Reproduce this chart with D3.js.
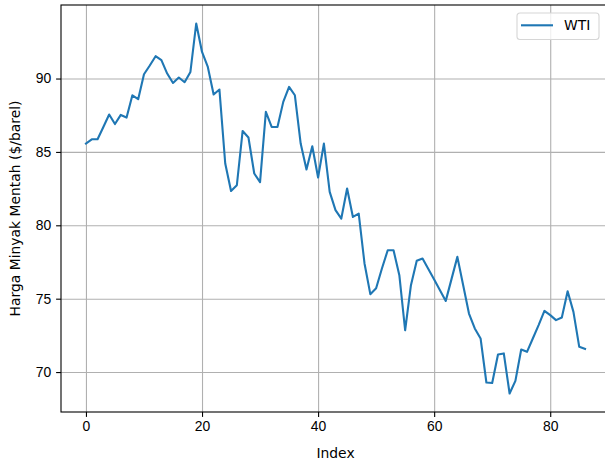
<!DOCTYPE html>
<html>
<head>
<meta charset="utf-8">
<script src="https://cdn.jsdelivr.net/npm/d3@7"></script>
<style>
  body { margin: 0; background: #fff; }
  svg { display: block; font-family: "DejaVu Sans", sans-serif; }
  .axis text { font-size: 13.9px; fill: #000; }
  .axis path, .axis line { stroke: #000; stroke-width: 1.1px; }
  .grid line { stroke: #b0b0b0; stroke-width: 1.1px; }
  .grid path { display: none; }
</style>
</head>
<body>
<div id="chart"></div>
<script>
// WTI price per index step
const seriesName = 'WTI';
const wtiValues = [
  85.57, 85.86, 85.86, 86.70, 87.55, 86.90, 87.52, 87.34, 88.86, 88.59,
  90.29, 90.89, 91.52, 91.25, 90.34, 89.70, 90.07, 89.75, 90.45, 93.75,
  91.81, 90.79, 88.91, 89.25, 84.21, 82.34, 82.73, 86.43, 85.98, 83.53,
  82.94, 87.73, 86.70, 86.70, 88.41, 89.43, 88.86, 85.57, 83.80, 85.39,
  83.26, 85.57, 82.28, 81.03, 80.46, 82.51, 80.57, 80.80, 77.40, 75.31,
  75.71, 77.06, 78.30, 78.30, 76.60, 72.85, 75.92, 77.58, 77.74, 77.03,
  76.31, 75.58, 74.85, 76.35, 77.85, 75.92, 73.99, 72.97, 72.29, 69.29,
  69.26, 71.20, 71.27, 68.54, 69.40, 71.54, 71.38, 72.29, 73.20, 74.17,
  73.88, 73.54, 73.72, 75.51, 74.10, 71.72, 71.58
];
const xTicks = [0, 20, 40, 60, 80];
const yTicks = [70, 75, 80, 85, 90];
const xLabel = 'Index';
const yLabel = 'Harga Minyak Mentah ($/barel)';

class LineChart {

  constructor(_config, _data) {
    this.config = {
      parentElement: _config.parentElement,
      containerWidth: 605,
      containerHeight: 464,
      // axes box runs a little past the right edge of the picture
      margin: {top: 5, right: -5, bottom: 52, left: 61},
      color: '#1f77b4'
    }
    this.data = _data;
    this.initVis();
  }

  initVis() {
    let vis = this;

    vis.config.width = vis.config.containerWidth - vis.config.margin.left - vis.config.margin.right;
    vis.config.height = vis.config.containerHeight - vis.config.margin.top - vis.config.margin.bottom;

    vis.svg = d3.select(vis.config.parentElement).append('svg')
        .attr('width', vis.config.containerWidth)
        .attr('height', vis.config.containerHeight);

    vis.chart = vis.svg.append('g')
        .attr('transform', `translate(${vis.config.margin.left},${vis.config.margin.top})`);

    // matplotlib-like 5% padding on both axes
    const n = vis.data.length - 1;
    const padX = n * 0.05;
    const [yMin, yMax] = d3.extent(vis.data, d => d.value);
    const padY = (yMax - yMin) * 0.05;

    vis.xScale = d3.scaleLinear()
        .domain([-padX, n + padX])
        .range([0, vis.config.width]);

    vis.yScale = d3.scaleLinear()
        .domain([yMin - padY, yMax + padY])
        .range([vis.config.height, 0]);

    // Grid lines
    vis.chart.append('g')
        .attr('class', 'grid')
        .attr('transform', `translate(0,${vis.config.height})`)
        .call(d3.axisBottom(vis.xScale).tickValues(xTicks).tickSize(-vis.config.height).tickFormat(''));

    vis.chart.append('g')
        .attr('class', 'grid')
        .call(d3.axisLeft(vis.yScale).tickValues(yTicks).tickSize(-vis.config.width).tickFormat(''));

    // Line
    const line = d3.line()
        .x(d => vis.xScale(d.index))
        .y(d => vis.yScale(d.value));

    vis.chart.append('path')
        .datum(vis.data)
        .attr('fill', 'none')
        .attr('stroke', vis.config.color)
        .attr('stroke-width', 2.1)
        .attr('stroke-linejoin', 'round')
        .attr('stroke-linecap', 'square')
        .attr('d', line);

    // Frame (spines)
    vis.chart.append('rect')
        .attr('width', vis.config.width)
        .attr('height', vis.config.height)
        .attr('fill', 'none')
        .attr('stroke', '#000')
        .attr('stroke-width', 1.1);

    // Axes
    vis.chart.append('g')
        .attr('class', 'axis x-axis')
        .attr('transform', `translate(0,${vis.config.height})`)
        .call(d3.axisBottom(vis.xScale).tickValues(xTicks).tickSize(4.9).tickPadding(4.2).tickFormat(d3.format('d')))
        .call(g => g.select('.domain').remove());

    vis.chart.append('g')
        .attr('class', 'axis y-axis')
        .call(d3.axisLeft(vis.yScale).tickValues(yTicks).tickSize(4.9).tickPadding(4.9).tickFormat(d3.format('d')))
        .call(g => g.select('.domain').remove());

    // Axis titles
    vis.svg.append('text')
        .attr('x', vis.config.margin.left + vis.xScale(43))
        .attr('y', 458)
        .attr('text-anchor', 'middle')
        .style('font-size', '13.9px')
        .text(xLabel);

    vis.svg.append('text')
        .attr('transform', `translate(19.5,${vis.config.margin.top + vis.config.height / 2}) rotate(-90)`)
        .attr('text-anchor', 'middle')
        .style('font-size', '13.9px')
        .text(yLabel);

    // Legend
    const legend = vis.svg.append('g')
        .attr('transform', 'translate(517,13)');

    legend.append('rect')
        .attr('width', 82)
        .attr('height', 26.5)
        .attr('rx', 3)
        .attr('fill', '#fff')
        .attr('fill-opacity', 0.8)
        .attr('stroke', '#d6d6d6')
        .attr('stroke-width', 1.1);

    legend.append('line')
        .attr('x1', 4).attr('x2', 36)
        .attr('y1', 12.3).attr('y2', 12.3)
        .attr('stroke', vis.config.color)
        .attr('stroke-width', 2.1);

    legend.append('text')
        .attr('x', 47)
        .attr('y', 17.3)
        .style('font-size', '13.9px')
        .text(seriesName);
  }
}

const data = wtiValues.map((v, i) => ({index: i, value: v}));
new LineChart({parentElement: '#chart'}, data);
</script>
</body>
</html>
